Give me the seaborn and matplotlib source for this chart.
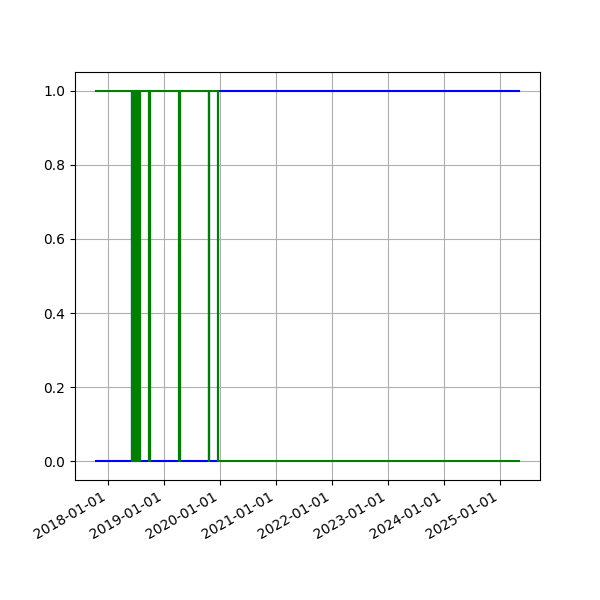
import pandas as pd
import numpy as np
import matplotlib
matplotlib.use("Agg")
import matplotlib.pyplot as plt
import matplotlib.dates as mdates
import seaborn as sns

# state changes of the blue series (green is the opposite state)
dates = ["2017-10-14",
         "2018-06-04", "2018-06-07", "2018-06-10", "2018-06-13", "2018-06-16",
         "2018-06-19", "2018-06-22", "2018-06-25", "2018-06-28", "2018-07-01",
         "2018-07-04", "2018-07-07", "2018-07-10", "2018-07-13", "2018-07-16",
         "2018-07-19", "2018-07-22", "2018-07-25", "2018-07-28",
         "2018-09-26", "2018-09-28",
         "2019-04-10", "2019-04-12",
         "2019-10-20", "2019-10-22",
         "2019-12-18",
         "2025-05-04"]
blue_state = [0,
              1, 0, 1, 0, 1,
              0, 1, 0, 1, 0,
              1, 0, 1, 0, 1,
              0, 1, 0, 0,
              1, 0,
              1, 0,
              1, 0,
              1,
              1]
green_state = [1 - v for v in blue_state]

df = pd.DataFrame({'date': pd.to_datetime(dates), 'blue': blue_state, 'green': green_state})

fig, ax = plt.subplots(figsize=(6, 6), dpi=100)
sns.lineplot(data=df, x='date', y='blue', color='blue', drawstyle='steps-post', estimator=None, ax=ax)
sns.lineplot(data=df, x='date', y='green', color='green', drawstyle='steps-post', estimator=None, ax=ax)
ax.set_xlabel('')
ax.set_ylabel('')
ax.grid(True)
ax.xaxis.set_major_locator(mdates.YearLocator())
ax.xaxis.set_major_formatter(mdates.DateFormatter('%Y-%m-%d'))
fig.autofmt_xdate()
plt.savefig('out.png')
